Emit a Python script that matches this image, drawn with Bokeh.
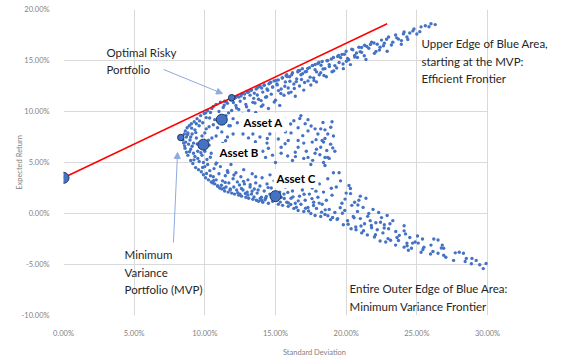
from bokeh.plotting import figure
from bokeh.models import FixedTicker, Label, Arrow, NormalHead, ColumnDataSource
from bokeh.embed import file_html
from bokeh.resources import INLINE

# ---- data (percent) ----
x_ticks = [0, 5, 10, 15, 20, 25, 30]
x_tick_labels = ["0.00%", "5.00%", "10.00%", "15.00%", "20.00%", "25.00%", "30.00%"]
y_ticks = [-10, -5, 0, 5, 10, 15, 20]
y_tick_labels = ["-10.00%", "-5.00%", "0.00%", "5.00%", "10.00%", "15.00%", "20.00%"]

pts_left = [(8.45,7.2),(8.5,6.9),(8.55,7.8),(8.6,6.4),(8.62,8.1),(8.7,7.5),(8.7,6.0),(8.75,8.4),(8.8,5.7),(8.85,6.8),
            (8.9,8.6),(8.95,7.2),(9.0,5.2),(9.0,6.3),(9.05,8.8),(9.1,7.8),(9.15,4.9),(9.2,6.9),(9.25,9.0),(9.3,5.6),
            (9.3,8.2),(9.35,4.5),(9.4,7.4),(9.45,9.3),(9.5,6.1),(9.55,4.3),(9.6,8.6),(9.6,5.1),(9.7,9.6),(9.7,7.0),
            (9.75,4.1),(9.8,5.7),(9.85,8.9),(9.9,3.8),(9.95,9.8),(10.0,4.6),(10.0,7.9),(10.05,3.5),(10.1,9.4),(10.15,5.3),
            (10.2,10.1),(10.25,3.3),(10.3,8.5),(10.35,4.2),(10.4,9.9),(10.45,3.1),(10.5,10.3),(10.5,7.4),
            (8.65,7.0),(8.8,7.9),(9.0,7.5),(9.1,6.6),(9.2,5.9),(9.4,8.8),(9.5,5.4),(9.65,6.5),(9.8,7.6),(9.9,5.0),
            (10.0,6.1),(10.1,8.3),(10.2,4.8),(10.3,6.7),(10.4,3.7),(10.45,5.9),
            (8.57,6.63),(8.78,7.74),(9.07,8.37),(9.23,5.26),(9.46,6.82),(9.63,9.08),(9.84,4.52),(10.07,9.87),(10.26,7.18),
            (10.39,5.51),(8.92,6.05),(9.36,7.93),(9.72,5.95),(10.12,3.92),(10.34,9.36)]

pts_upper = [(10.6,10.5),(10.7,9.2),(10.8,10.7),(10.9,8.4),(11.0,10.0),(11.1,10.9),(11.2,8.9),(11.3,10.4),(11.4,11.0),(11.5,9.6),
             (11.6,10.8),(11.7,8.6),(11.8,11.2),(11.9,10.1),(12.0,9.3),(12.1,11.3),(12.2,10.6),
             (12.3,11.5),(12.4,10.2),(12.5,11.0),(12.6,11.7),(12.7,9.6),(12.8,11.3),(12.9,10.7),(13.0,11.9),(13.1,10.1),(13.2,11.6),
             (13.3,12.1),(13.4,10.9),(13.5,11.8),(13.6,9.9),(13.7,12.3),(13.8,11.2),(13.9,12.5),(14.0,10.5),(14.1,11.9),(14.2,12.6),
             (14.3,11.4),(14.4,12.2),(14.5,10.3),(14.6,12.8),(14.7,11.7),(14.8,12.4),(14.9,13.0),(15.0,11.1),(15.1,12.7),(15.2,13.1),
             (15.3,10.6),(15.4,12.2),
             (15.5,13.3),(15.6,11.6),(15.7,12.9),(15.8,13.6),(15.9,12.3),(16.0,13.4),(16.1,11.9),(16.2,13.8),(16.3,12.7),(16.4,11.5),
             (16.5,13.2),(16.6,14.0),(16.7,12.5),(16.8,13.6),(16.9,14.2),(17.0,12.1),(17.1,13.9),(17.3,13.0),(17.4,14.3),(17.5,12.6),
             (17.6,14.5),(17.7,13.3),(17.8,14.1),(17.9,12.9),(18.0,14.7),(18.1,13.6),(18.2,13.8),(18.3,14.9),(18.5,14.2),(18.6,13.4),
             (18.7,15.0),(18.8,14.6),(19.0,13.9),(19.1,15.3),(19.2,14.5),
             (19.4,15.4),(19.5,14.8),(19.7,15.6),(19.8,14.2),(20.0,15.9),(20.1,15.2),(20.3,14.6),(20.4,16.1),(20.6,15.5),(20.8,15.3),
             (20.9,16.3),(21.1,15.8),(21.3,16.5),(21.4,15.1),(21.6,16.2),(21.8,16.8),(22.0,15.7),(22.2,16.6),(22.4,16.3),(22.5,17.0),
             (22.7,16.7),(22.9,15.9),(23.0,17.3),
             (23.3,16.8),(23.5,17.5),(23.7,17.1),(23.9,16.6),(24.1,17.8),(24.3,17.3),(24.5,17.7),(24.8,18.1),(25.0,17.6),(25.3,18.3),
             (25.6,18.4),(26.0,18.6)]

pts_upper_b = [(11.37,10.62),(14.02,12.31),(12.81,11.72),(13.55,10.84),(11.93,11.18),(14.66,12.87),(12.24,10.35),(15.83,13.42),
               (16.47,12.93),(13.12,11.95),(17.28,14.21),(15.21,12.05),(18.64,14.98),(12.56,11.53),(16.92,13.71),(14.38,11.44),
               (19.87,15.61),(13.83,12.42),(20.73,15.74),(17.91,13.88),(11.68,9.87),(15.47,13.29),(21.46,16.38),(18.22,14.53),
               (22.35,16.02),(14.91,10.92),(16.15,13.6),(13.29,12.1),(23.58,17.22),(19.33,14.27),(12.02,10.88),(20.18,15.07),
               (17.64,14.52),(24.72,17.9),(15.66,12.48),(13.98,11.07),(18.95,15.15),(21.97,16.71),(16.71,14.02),(14.53,12.71),
               (12.95,10.46),(22.86,17.08),(19.61,15.28),(17.06,12.84),(15.04,13.05),(20.99,15.86),(13.71,11.62),(18.43,13.53),
               (23.91,16.95),(16.33,12.26),(11.84,11.12),(14.2,12.58),(25.86,18.31),(19.12,13.98),(21.28,15.47),(17.45,13.37),
               (15.93,11.81),(12.41,11.41),(20.47,16.05),(24.36,17.06),(13.46,11.29),(16.84,13.14),(18.07,14.81),(22.64,16.44),
               (14.79,12.39),(19.78,14.66),(12.67,9.73),(17.81,14.61),(15.38,11.76),(21.72,16.58),(23.2,16.52),(16.58,13.88),
               (25.21,17.83),(13.04,11.88),(18.81,14.41),(14.45,12.09),(20.02,14.93),(11.52,10.95),(17.19,13.92),(24.05,17.61),
               (15.75,13.51),(22.11,15.89),(19.46,15.49),(16.02,12.97),(13.63,12.21),(18.36,14.17),(21.09,16.27),(14.11,10.63),
               (26.3,18.52),(17.72,13.05),(12.18,11.37),(20.61,15.35),(15.12,12.61)]

pts_mid = [(10.6,8.7),(10.8,7.6),(11.0,6.2),(11.2,8.0),(11.4,5.6),(11.6,7.5),(11.8,8.6),(12.0,7.8),(12.1,6.0),(12.3,8.9),
           (12.5,5.2),(12.7,7.8),(12.9,8.5),(13.1,6.5),(13.4,7.8),(13.6,5.5),(13.8,9.1),(13.9,7.5),(14.1,6.1),(14.3,5.5),
           (14.4,6.9),(14.5,6.4),(14.6,7.8),(14.8,8.7),(15.0,5.0),(15.2,7.3),(15.4,6.5),(15.4,5.9),(15.6,9.4),(15.7,8.0),
           (15.9,7.15),(16.1,7.9),(16.2,5.2),(16.3,9.1),(16.4,6.0),(16.6,8.4),(16.6,6.5),(16.6,7.15),(16.8,9.6),(17.0,6.9),
           (17.0,5.4),(17.1,8.8),(17.3,9.2),(17.3,8.1),(17.3,5.5),(17.5,4.8),(17.6,7.0),(17.8,8.3),(17.8,5.9),(17.9,6.3),
           (18.0,7.8),(18.2,8.3),(18.2,6.5),(18.3,7.15),(18.4,7.0),(18.4,5.0),(18.5,8.2),(18.5,7.35),(18.5,5.5),(18.5,4.7),
           (18.7,7.8),(18.7,5.5),(18.8,5.4),(18.9,6.8),(19.0,9.0),(19.1,7.6),(19.2,6.1),
           (11.47,7.13),(12.63,6.72),(13.27,8.96),(14.12,8.14),(15.68,6.84),(16.93,7.63),(17.52,8.58),(18.14,5.76),(12.18,5.47),
           (13.84,6.29),(15.03,8.41),(16.41,5.58),(17.87,7.24),(18.63,6.17),(11.92,6.63),(14.79,5.72),(16.07,8.77),(17.18,6.11),
           (18.91,8.46),(13.58,7.04),(15.37,9.16),(12.91,5.93),(14.42,7.36),(16.72,9.31),(17.63,5.21),(18.36,8.92),(19.05,6.43),
           (11.26,6.88),(13.09,7.41),(15.86,5.63)]

pts_lower = [(10.55,3.0),(10.6,3.6),(10.65,4.4),(10.7,2.9),(10.8,3.3),(10.85,5.0),(10.9,2.7),(11.0,3.9),(11.05,2.5),(11.1,4.6),
             (11.2,2.4),(11.25,3.2),(11.3,5.4),(11.4,2.2),(11.45,3.7),(11.5,2.6),(11.6,4.2),(11.65,2.1),(11.7,3.0),(11.8,2.4),
             (11.85,4.8),(11.9,2.0),(12.0,3.4),(12.05,2.6),(12.1,1.9),(12.2,4.0),(12.25,2.3),(12.3,3.1),(12.4,1.8),(12.45,2.8),
             (12.55,3.6),(12.6,1.7),(12.7,2.3),(12.75,4.3),(12.8,2.9),(12.9,1.6),(13.0,2.1),(13.05,3.3),(13.1,1.5),(13.2,2.6),
             (13.3,1.9),(13.35,3.9),(13.4,1.4),(13.5,2.4),(13.6,3.0),(13.65,1.3),(13.7,2.0),(13.8,1.2),(13.9,2.7),(14.0,1.6),
             (14.05,3.5),(14.1,1.1),(14.2,2.2),(14.3,1.5),(14.4,2.9),(14.5,1.0),(14.6,1.9),(14.7,2.5),(14.8,1.2),(14.9,3.2),
             (15.1,1.4),(15.2,0.9),(15.3,2.1),(15.4,1.6),(15.5,0.8),
             (15.6,1.9),(15.7,2.6),(15.8,1.1),(15.9,0.7),(16.0,3.3),(16.1,1.5),(16.2,2.2),(16.3,0.5),(16.4,1.0),(16.5,2.8),
             (16.6,0.3),(16.7,1.7),(16.8,0.9),(16.9,2.3),(17.0,0.2),(17.1,1.3),(17.2,3.0),(17.3,0.6),(17.4,1.9),(17.5,0.0),
             (17.6,2.5),(17.7,1.1),(17.8,-0.2),(17.9,0.5),(18.0,1.6),(18.1,2.9),(18.2,-0.3),(18.3,0.9),(18.4,2.1),(18.5,-0.1),
             (18.6,1.3),(18.7,3.4),(18.8,0.4),(18.9,-0.6),(19.0,1.8),(19.1,4.0),(19.2,0.1),(19.3,2.6),(19.4,-0.5),(19.5,4.0),
             (19.6,3.2),(19.7,1.0),
             (19.8,-1.1),(19.9,0.3),(20.0,2.0),(20.1,-0.7),(20.2,2.75),(20.3,2.45),(20.35,-1.5),(20.4,0.8),(20.5,-0.3),(20.6,1.1),
             (20.7,-1.6),(20.8,0.2),(20.9,1.3),(21.0,-0.5),(21.0,1.7),(21.1,-1.9),(21.2,0.6),(21.3,-1.0),(21.4,1.5),(21.5,-2.1),
             (21.6,0.0),(21.7,-0.7),(21.8,-1.4),(21.9,0.4),(22.0,-2.3),(22.1,-0.9),(22.2,-1.6),(22.3,0.1),(22.4,-2.7),(22.5,-0.4),
             (22.6,-1.9),(22.7,-1.1),(22.8,-2.8),(22.9,-0.2),(23.0,-1.5),
             (23.1,-1.0),(23.3,-0.7),(23.5,-3.1),(23.6,-2.35),(23.7,-2.65),(24.1,-1.2),(24.1,-1.7),(24.1,-3.3),(24.2,-2.0),(24.3,-2.9),
             (24.4,-3.6),(24.5,-2.35),(24.7,-2.9),(25.05,-2.2),(25.1,-2.9),(25.3,-3.8),(25.4,-2.5),(25.5,-3.3),(26.0,-3.1),(26.2,-2.5),
             (26.5,-2.6),(26.5,-3.9),(26.8,-3.1),(26.9,-3.4),(26.9,-4.1),(27.6,-4.6),(28.0,-3.8),(28.3,-3.9),(28.5,-4.4),(28.9,-4.4),
             (29.2,-4.6),(29.9,-4.9),(29.7,-5.4)]

pts_lower_b = [(10.62,3.21),(11.17,2.77),(12.33,2.04),(13.48,1.62),(11.79,2.31),(14.26,1.35),(12.87,1.96),(15.34,1.12),
               (13.92,1.48),(16.08,0.88),(10.91,2.69),(12.59,2.45),(14.73,1.73),(17.13,0.51),(13.21,2.83),(11.44,3.05),
               (15.87,2.07),(18.26,0.13),(14.48,2.54),(16.61,1.24),(12.06,3.77),(19.04,-0.39),(13.77,2.31),(17.58,1.46),
               (15.62,1.47),(20.14,-1.06),(11.63,4.02),(16.95,2.63),(14.87,2.05),(18.71,-0.22),(21.23,-1.69),(13.05,1.81),
               (19.58,0.57),(16.24,1.63),(22.07,-2.08),(17.86,2.19),(12.74,3.15),(20.56,-0.41),(15.05,2.87),(18.09,1.02),
               (23.14,-2.62),(14.02,1.27),(21.78,-1.18),(19.92,1.41),(16.47,0.62),(24.31,-3.16),(17.34,0.24),(22.69,-1.42),
               (20.83,0.83),(13.6,3.61),(25.43,-3.53),(18.95,2.48),(26.14,-3.72),(23.76,-2.14),(21.52,-0.28),(27.05,-4.29),
               (15.48,3.24),(19.36,-0.58),(24.88,-2.79),(28.42,-4.71),(22.43,-0.86),(17.69,0.78),(20.31,1.95),(25.97,-3.97),
               (11.36,2.49),(27.72,-3.86),(16.79,3.02),(23.51,-1.77),(14.35,1.66),(29.45,-5.02),(12.48,1.88),(18.52,0.36),
               (21.05,-1.23),(26.73,-3.38),(15.91,1.04),(24.62,-3.41),(19.73,0.02),(13.34,2.18),(22.96,-2.46),(10.78,4.85),
               (17.02,1.89),(28.86,-4.93),(20.68,-1.33),(14.61,3.79)]

asset_names = ["Asset A", "Asset B", "Asset C"]
asset_sd = [11.2, 9.9, 15.0]
asset_ret = [9.2, 6.75, 1.7]
rf_sd, rf_ret = 0.0, 3.5
opt_sd, opt_ret = 11.9, 11.35
mvp_sd, mvp_ret = 8.3, 7.45
cal_sd = [0.0, 22.9]
cal_ret = [3.5, 18.6]

FONT = "Lato"
BLUE = "#4472C4"
EDGE = "#1F3864"
GRID = "#D9D9D9"

X_MAX = 30 * 502 / 424  # frame extends right of the 30% edge so that notes are not clipped

p = figure(frame_width=502, frame_height=306, x_range=(0, X_MAX), y_range=(-10, 20),
           output_backend="svg", toolbar_location=None,
           min_border_left=63, min_border_right=1, min_border_top=9, min_border_bottom=43,
           background_fill_color="white", border_fill_color="white")
p.outline_line_color = None

for ax, ticks, labs in ((p.xaxis, x_ticks, x_tick_labels), (p.yaxis, y_ticks, y_tick_labels)):
    ax.ticker = FixedTicker(ticks=ticks)
    ax.major_label_overrides = {t: l for t, l in zip(ticks, labs)}
    ax.axis_line_color = None
    ax.major_tick_line_color = None
    ax.minor_tick_line_color = None
    ax.major_label_text_font = FONT
    ax.major_label_text_font_size = "7.5px"
    ax.major_label_text_color = "#7F7F7F"
    ax.axis_label_text_font = FONT
    ax.axis_label_text_font_size = "7.5px"
    ax.axis_label_text_color = "#7F7F7F"
    ax.axis_label_text_font_style = "normal"
p.xaxis.bounds = (0, 30)
p.xaxis.axis_label = "Standard Deviation"
p.yaxis.axis_label = "Expected Return"
p.xaxis.major_label_standoff = 7
p.xaxis.axis_label_standoff = 7
p.yaxis.major_label_standoff = 8
p.yaxis.axis_label_standoff = -5
p.grid.grid_line_color = GRID
p.grid.grid_line_width = 1
p.ygrid.cross_bounds = (0, 30)

all_pts = pts_left + pts_upper + pts_upper_b + pts_mid + pts_lower + pts_lower_b
cloud = ColumnDataSource(dict(sd=[a for a, b in all_pts], ret=[b for a, b in all_pts]))
p.scatter("sd", "ret", source=cloud, size=3.4, color=BLUE, line_width=0)

p.line(cal_sd, cal_ret, line_color="#FF0000", line_width=1.5)

p.scatter(asset_sd, asset_ret, size=11, fill_color=BLUE, line_color=EDGE, line_width=1)
p.scatter([rf_sd], [rf_ret], size=11, fill_color=BLUE, line_color=EDGE, line_width=1)
p.scatter([opt_sd, mvp_sd], [opt_ret, mvp_ret], size=6.5, fill_color=BLUE, line_color=EDGE, line_width=1)

head_kw = dict(size=6, fill_color="#8FAADC", line_color="#8FAADC")
p.add_layout(Arrow(end=NormalHead(**head_kw), x_start=7.08, y_start=14.12, x_end=11.25, y_end=11.76,
                   line_color="#8FAADC", line_width=1))
p.add_layout(Arrow(end=NormalHead(**head_kw), x_start=7.78, y_start=-2.84, x_end=8.07, y_end=5.98,
                   line_color="#8FAADC", line_width=1))

asset_lab_pos = [(12.52, 8.92), (10.83, 5.98), (14.86, 3.43)]
for name, (lx, ly) in zip(asset_names, asset_lab_pos):
    p.add_layout(Label(x=lx, y=ly, text=name, text_font=FONT, text_font_size="11.5px",
                       text_font_style="bold", text_color="#000000", text_baseline="middle",
                       background_fill_color="white", padding=3))

notes = [
    (3.04, [15.78, 14.12], ["Optimal Risky", "Portfolio"]),
    (25.33, [16.67, 14.90, 13.24], ["Upper Edge of Blue Area,", "starting at the MVP:", "Efficient Frontier"]),
    (4.32, [-4.02, -5.78, -7.45], ["Minimum", "Variance", "Portfolio (MVP)"]),
    (20.24, [-7.35, -9.12], ["Entire Outer Edge of Blue Area:", "Minimum Variance Frontier"]),
]
for nx, ys, lines in notes:
    for ny, t in zip(ys, lines):
        p.add_layout(Label(x=nx, y=ny, text=t, text_font=FONT, text_font_size="11.5px",
                           text_color="#262626", text_baseline="middle"))

open("out.html", "w").write(file_html(p, INLINE))
